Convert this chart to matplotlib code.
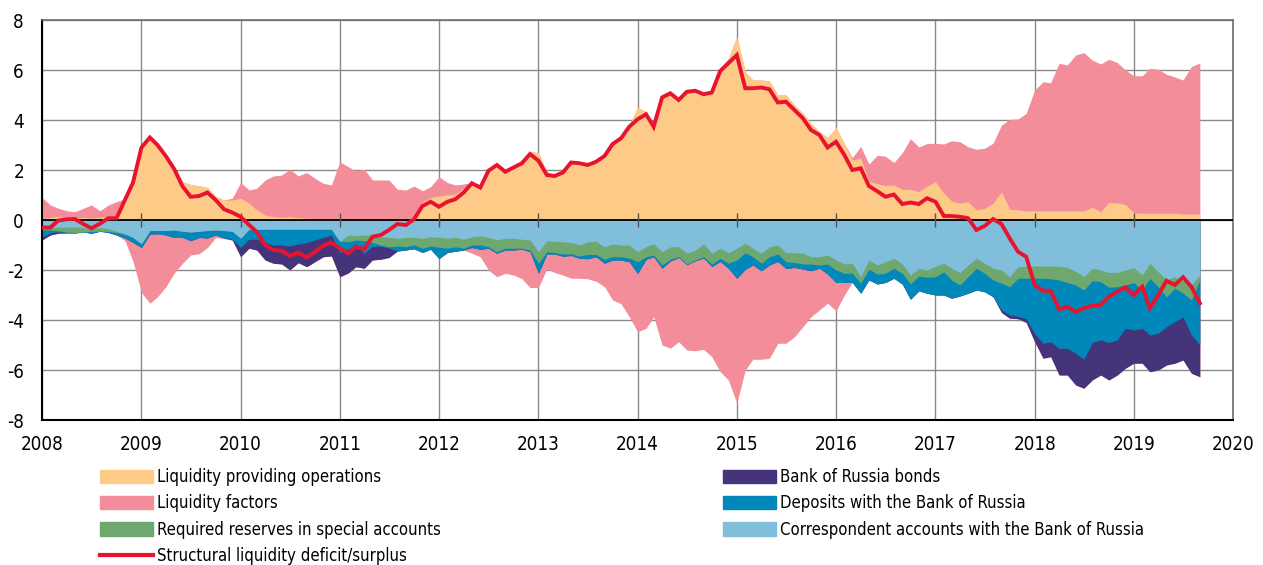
import numpy as np
import pandas as pd
import matplotlib
matplotlib.use("Agg")
import matplotlib.pyplot as plt
from matplotlib.patches import Patch
from matplotlib.lines import Line2D

plt.rcParams['font.family'] = ['DejaVu Sans']
plt.rcParams['font.stretch'] = 'condensed'

months = pd.date_range('2008-01-01', periods=141, freq='MS')

structural = [
    -0.30, -0.30, -0.02, 0.03, 0.04, -0.16, -0.33, -0.15, 0.07, 0.07, 0.80, 1.50,
    2.90, 3.30, 3.00, 2.55, 2.05, 1.35, 0.93, 0.96, 1.10, 0.80, 0.43, 0.30,
    0.13, -0.20, -0.47, -1.00, -1.20, -1.23, -1.44, -1.30, -1.50, -1.27, -1.03, -0.90,
    -1.13, -1.33, -1.07, -1.17, -0.67, -0.60, -0.40, -0.16, -0.20, 0.03, 0.56, 0.73,
    0.53, 0.73, 0.83, 1.10, 1.47, 1.30, 1.97, 2.20, 1.93, 2.10, 2.27, 2.64,
    2.37, 1.80, 1.76, 1.90, 2.30, 2.27, 2.20, 2.33, 2.56, 3.04, 3.27, 3.73,
    4.03, 4.23, 3.73, 4.90, 5.07, 4.80, 5.13, 5.17, 5.03, 5.10, 5.96, 6.27,
    6.60, 5.27, 5.27, 5.30, 5.23, 4.70, 4.73, 4.40, 4.07, 3.60, 3.40, 2.90,
    3.13, 2.60, 2.00, 2.07, 1.36, 1.15, 0.93, 1.02, 0.64, 0.70, 0.64, 0.87,
    0.73, 0.16, 0.16, 0.13, 0.07, -0.40, -0.24, 0.04, -0.16, -0.73, -1.27, -1.47,
    -2.60, -2.83, -2.83, -3.57, -3.47, -3.67, -3.53, -3.43, -3.40, -3.07, -2.87, -2.69,
    -3.00, -2.67, -3.53, -3.00, -2.43, -2.60, -2.29, -2.67, -3.33]

liquidity_providing = [
    0.05, 0.10, 0.15, 0.12, 0.10, 0.10, 0.08, 0.10, 0.12, 0.15, 0.85, 1.55,
    2.95, 3.30, 3.05, 2.60, 2.13, 1.53, 1.42, 1.37, 1.30, 0.95, 0.80, 0.80,
    0.87, 0.67, 0.40, 0.20, 0.13, 0.10, 0.13, 0.09, 0.07, 0.05, 0.05, 0.05,
    0.04, 0.03, 0.03, 0.03, 0.03, 0.03, 0.03, 0.03, 0.05, 0.10, 0.73, 0.90,
    0.96, 1.00, 1.04, 1.27, 1.50, 1.35, 2.05, 2.25, 2.00, 2.15, 2.35, 2.73,
    2.70, 1.93, 1.82, 1.95, 2.33, 2.30, 2.25, 2.38, 2.60, 3.10, 3.35, 3.80,
    4.50, 4.33, 3.80, 5.03, 5.14, 4.83, 5.16, 5.20, 5.08, 5.20, 6.09, 6.47,
    7.33, 5.93, 5.60, 5.60, 5.56, 5.00, 5.00, 4.60, 4.27, 3.87, 3.53, 3.30,
    3.69, 3.05, 2.40, 2.47, 1.55, 1.45, 1.38, 1.40, 1.22, 1.23, 1.13, 1.36,
    1.53, 1.07, 0.76, 0.67, 0.73, 0.40, 0.47, 0.67, 1.13, 0.43, 0.40, 0.37,
    0.36, 0.36, 0.36, 0.36, 0.36, 0.36, 0.36, 0.51, 0.33, 0.70, 0.69, 0.62,
    0.29, 0.27, 0.27, 0.27, 0.27, 0.27, 0.24, 0.24, 0.24]

liquidity_factors = [
    0.85, 0.50, 0.32, 0.25, 0.23, 0.37, 0.52, 0.27, 0.48, 0.58, -0.10, -0.75,
    -1.80, -2.76, -2.52, -2.07, -1.43, -1.03, -0.57, -0.65, -0.38, -0.10, -0.03, 0.07,
    0.63, 0.53, 0.87, 1.40, 1.63, 1.70, 1.90, 1.67, 1.83, 1.62, 1.42, 1.35,
    2.29, 2.10, 1.94, 2.00, 1.57, 1.57, 1.57, 1.20, 1.15, 1.26, 0.44, 0.43,
    0.77, 0.50, 0.36, 0.17, -0.23, -0.30, -0.87, -0.94, -0.93, -1.00, -1.18, -1.43,
    -0.57, -0.59, -0.74, -0.75, -0.91, -0.80, -0.80, -0.98, -0.94, -1.60, -1.75, -2.20,
    -2.33, -2.76, -2.40, -3.07, -3.49, -3.37, -3.41, -3.60, -3.65, -3.61, -4.41, -4.47,
    -5.00, -4.03, -3.77, -3.54, -3.73, -3.27, -2.99, -2.77, -2.31, -1.84, -1.67, -1.17,
    -1.13, -0.50, 0.10, 0.47, 0.69, 1.14, 1.17, 0.90, 1.47, 2.02, 1.79, 1.70,
    1.54, 1.97, 2.41, 2.46, 2.20, 2.43, 2.40, 2.40, 2.67, 3.60, 3.64, 3.90,
    4.84, 5.17, 5.13, 5.91, 5.84, 6.24, 6.33, 5.89, 5.91, 5.73, 5.61, 5.38,
    5.48, 5.50, 5.80, 5.76, 5.56, 5.45, 5.36, 5.90, 6.04]

correspondent_accounts = [
    -0.30, -0.30, -0.28, -0.28, -0.28, -0.30, -0.35, -0.30, -0.35, -0.45, -0.55, -0.70,
    -0.95, -0.42, -0.42, -0.42, -0.40, -0.45, -0.48, -0.45, -0.42, -0.40, -0.42, -0.45,
    -0.73, -0.37, -0.37, -0.37, -0.37, -0.37, -0.37, -0.37, -0.37, -0.37, -0.37, -0.37,
    -0.85, -0.60, -0.63, -0.60, -0.60, -0.67, -0.69, -0.73, -0.70, -0.69, -0.73, -0.67,
    -0.69, -0.73, -0.69, -0.77, -0.67, -0.64, -0.69, -0.80, -0.73, -0.73, -0.77, -0.80,
    -1.27, -0.83, -0.85, -0.87, -0.90, -1.00, -0.87, -0.85, -1.07, -0.96, -1.00, -1.00,
    -1.27, -1.07, -0.95, -1.27, -1.07, -1.07, -1.33, -1.20, -0.95, -1.33, -1.13, -1.31,
    -1.13, -0.93, -1.13, -1.33, -1.07, -1.00, -1.31, -1.31, -1.33, -1.47, -1.47, -1.40,
    -1.60, -1.76, -1.73, -2.27, -1.60, -1.80, -1.67, -1.53, -1.76, -2.20, -1.93, -2.00,
    -1.85, -1.73, -1.93, -2.10, -1.80, -1.53, -1.73, -1.93, -2.00, -2.27, -1.87, -1.85,
    -1.84, -1.84, -1.84, -1.85, -1.90, -2.05, -2.27, -1.93, -2.00, -2.10, -2.10, -2.00,
    -1.91, -2.20, -1.73, -2.07, -2.40, -2.27, -2.43, -2.60, -2.20]

required_reserves = [
    -0.10, -0.10, -0.15, -0.20, -0.22, -0.18, -0.10, -0.15, -0.10, -0.05, -0.02, 0.00,
    0, 0, 0, 0, 0, 0, 0, 0, 0, 0, 0, 0,
    0, 0, 0, 0, 0, 0, 0, 0, 0, 0, 0, 0,
    0.00, -0.27, -0.17, -0.23, -0.30, -0.33, -0.38, -0.31, -0.37, -0.31, -0.40, -0.37,
    -0.40, -0.40, -0.38, -0.36, -0.33, -0.36, -0.38, -0.47, -0.40, -0.40, -0.36, -0.40,
    -0.46, -0.44, -0.45, -0.49, -0.45, -0.44, -0.51, -0.53, -0.50, -0.51, -0.47, -0.53,
    -0.40, -0.40, -0.45, -0.53, -0.50, -0.40, -0.43, -0.40, -0.52, -0.43, -0.40, -0.42,
    -0.47, -0.38, -0.34, -0.40, -0.40, -0.36, -0.36, -0.39, -0.43, -0.29, -0.33, -0.36,
    -0.40, -0.37, -0.40, -0.26, -0.37, -0.36, -0.46, -0.40, -0.37, -0.36, -0.31, -0.29,
    -0.42, -0.34, -0.47, -0.50, -0.47, -0.40, -0.40, -0.47, -0.53, -0.40, -0.46, -0.48,
    -0.49, -0.49, -0.51, -0.55, -0.60, -0.55, -0.53, -0.50, -0.47, -0.59, -0.57, -0.60,
    -0.60, -0.60, -0.60, -0.60, -0.67, -0.46, -0.50, -0.60, -0.20]

deposits = [
    -0.30, -0.10, -0.05, -0.02, -0.02, 0.00, -0.08, 0.00, -0.05, -0.10, -0.15, -0.20,
    -0.15, -0.15, -0.13, -0.18, -0.30, -0.25, -0.35, -0.25, -0.30, -0.20, -0.30, -0.32,
    -0.37, -0.40, -0.40, -0.53, -0.63, -0.63, -0.67, -0.59, -0.53, -0.43, -0.33, -0.23,
    -0.45, -0.30, -0.20, -0.50, -0.15, -0.05, -0.05, -0.20, -0.13, -0.15, -0.17, -0.13,
    -0.45, -0.17, -0.18, -0.07, -0.10, -0.17, -0.06, -0.06, -0.07, -0.07, -0.04, -0.07,
    -0.40, -0.09, -0.06, -0.09, -0.07, -0.09, -0.17, -0.09, -0.16, -0.13, -0.13, -0.14,
    -0.47, -0.10, -0.07, -0.13, -0.07, -0.03, -0.03, -0.03, -0.05, -0.10, -0.13, -0.20,
    -0.73, -0.66, -0.33, -0.30, -0.33, -0.30, -0.27, -0.20, -0.20, -0.27, -0.13, -0.40,
    -0.50, -0.37, -0.37, -0.40, -0.43, -0.40, -0.37, -0.40, -0.43, -0.61, -0.59, -0.64,
    -0.73, -0.93, -0.73, -0.44, -0.66, -0.87, -0.74, -0.67, -1.07, -1.13, -1.52, -1.62,
    -2.22, -2.60, -2.52, -2.73, -2.63, -2.73, -2.77, -2.47, -2.33, -2.21, -2.13, -1.73,
    -1.89, -1.53, -2.27, -1.86, -1.20, -1.34, -0.94, -1.40, -2.60]

bonds = [
    -0.10, -0.10, -0.05, -0.02, 0, 0, 0, 0, 0, 0, 0, 0,
    0, 0, 0, 0, 0, 0, 0, 0, 0, 0, 0, -0.03,
    -0.37, -0.36, -0.43, -0.70, -0.73, -0.76, -0.96, -0.75, -0.97, -0.87, -0.77, -0.84,
    -0.97, -0.95, -0.87, -0.60, -0.55, -0.52, -0.38, 0, 0, 0, 0, 0,
    0, 0, 0, 0, 0, 0, 0, 0, 0, 0, 0, 0,
    0, 0, 0, 0, 0, 0, 0, 0, 0, 0, 0, 0,
    0, 0, 0, 0, 0, 0, 0, 0, 0, 0, 0, 0,
    0, 0, 0, 0, 0, 0, 0, 0, 0, 0, 0, 0,
    0, 0, 0, 0, 0, 0, 0, 0, 0, 0, 0, 0,
    0, 0, 0, 0, 0, 0, 0, 0, -0.10, -0.13, -0.10, -0.15,
    -0.32, -0.60, -0.60, -1.07, -1.07, -1.27, -1.16, -1.50, -1.40, -1.50, -1.40, -1.60,
    -1.33, -1.40, -1.47, -1.47, -1.53, -1.66, -1.73, -1.53, -1.27]

years = list(range(2008, 2021))
y_ticks = list(range(-8, 9, 2))

C_ORANGE = '#FDCA88'
C_PINK = '#F48D9A'
C_GREEN = '#6FA86E'
C_PURPLE = '#45347A'
C_TEAL = '#0088BB'
C_LBLUE = '#81BEDC'
C_RED = '#E8132F'

lpo = np.array(liquidity_providing)
lf = np.array(liquidity_factors)
ca = np.array(correspondent_accounts)
rr = np.array(required_reserves)
dep = np.array(deposits)
bd = np.array(bonds)
sl = np.array(structural)

lf_pos = np.maximum(lf, 0)
lf_neg = np.minimum(lf, 0)

c1 = ca
c2 = c1 + rr
c3 = c2 + dep
c4 = c3 + bd
c5 = c4 + lf_neg

fig = plt.figure(figsize=(12.63, 5.65), dpi=100)
ax = fig.add_axes([42/1263, 1-420/565, (1233-42)/1263, 400/565])

x = months
ax.fill_between(x, 0, lpo + lf_pos, color=C_PINK, lw=0, zorder=1)
ax.fill_between(x, 0, lpo, color=C_ORANGE, lw=0, zorder=1.1)
ax.fill_between(x, 0, c5, color=C_PINK, lw=0, zorder=1)
ax.fill_between(x, 0, c4, color=C_PURPLE, lw=0, zorder=1.1)
ax.fill_between(x, 0, c3, color=C_TEAL, lw=0, zorder=1.2)
ax.fill_between(x, 0, c2, color=C_GREEN, lw=0, zorder=1.3)
ax.fill_between(x, 0, c1, color=C_LBLUE, lw=0, zorder=1.4)

ax.axhline(0, color='black', lw=1.3, zorder=3)
ydates = pd.to_datetime([f'{y}-01-01' for y in years])
ax.vlines(ydates[1:-1], -0.27, 0.27, color='#555555', lw=1.0, zorder=3.5)

ax.plot(x, sl, color=C_RED, lw=2.8, zorder=5, solid_joinstyle='miter')

ax.set_xlim(ydates[0], ydates[-1])
ax.set_ylim(-8, 8)
ax.set_xticks(ydates)
ax.set_xticklabels([str(y) for y in years])
ax.set_yticks(y_ticks)
ax.set_yticklabels([str(v) for v in y_ticks])
ax.set_axisbelow(True)
ax.grid(True, color='#8a8a8a', lw=1.0)
ax.tick_params(axis='both', length=0, labelsize=13.5, colors='black')
ax.tick_params(axis='y', pad=13)
ax.tick_params(axis='x', pad=11)
for s in ['left', 'bottom']:
    ax.spines[s].set_color('black')
    ax.spines[s].set_linewidth(1.5)
for s in ['top', 'right']:
    ax.spines[s].set_color('#6e6e6e')
    ax.spines[s].set_linewidth(1.2)

leg_kw = dict(frameon=False, fontsize=12, handlelength=3.2, handleheight=0.85,
              handletextpad=0.2, labelspacing=0.5, borderpad=0, borderaxespad=0,
              loc='upper left')
h1 = [Patch(color=C_ORANGE), Patch(color=C_PINK), Patch(color=C_GREEN),
      Line2D([0], [0], color=C_RED, lw=3)]
l1 = ['Liquidity providing operations', 'Liquidity factors',
      'Required reserves in special accounts', 'Structural liquidity deficit/surplus']
h2 = [Patch(color=C_PURPLE), Patch(color=C_TEAL), Patch(color=C_LBLUE)]
l2 = ['Bank of Russia bonds', 'Deposits with the Bank of Russia',
      'Correspondent accounts with the Bank of Russia']
fig.legend(h1, l1, bbox_to_anchor=(100/1263, 1-468/565), **leg_kw)
fig.legend(h2, l2, bbox_to_anchor=(723/1263, 1-468/565), **leg_kw)

fig.savefig('out.png', dpi=100)
